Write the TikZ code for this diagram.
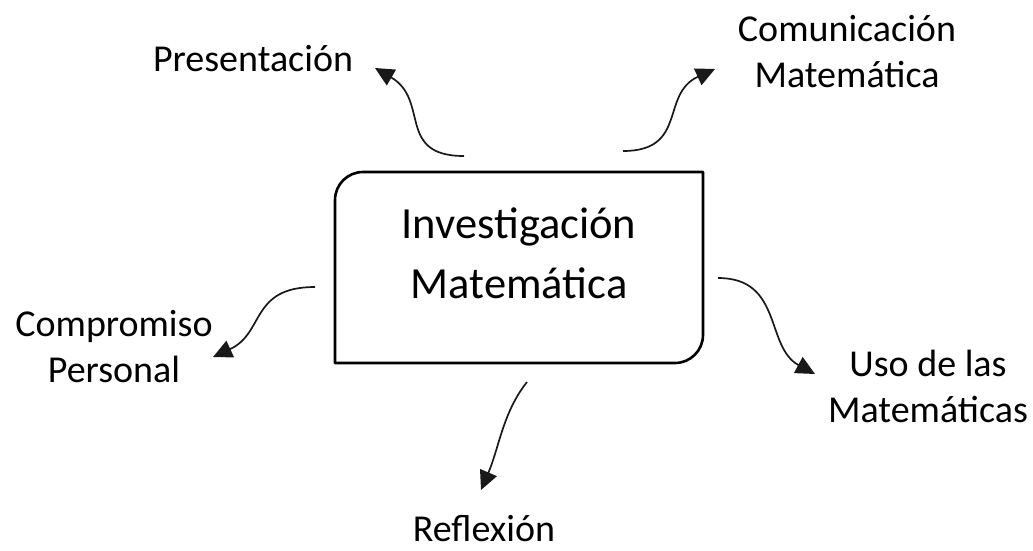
\documentclass[tikz,border=0pt]{standalone}
\usepackage{fontspec}
\setmainfont{Carlito}
\usetikzlibrary{arrows.meta}
\begin{document}
\begin{tikzpicture}[x=1pt,y=-1pt,
  lbl/.style={inner sep=0pt,align=center,anchor=base,font=\fontsize{38}{46}\selectfont},
  maintext/.style={inner sep=0pt,align=center,anchor=base,font=\fontsize{44.5}{60}\selectfont},
  boxline/.style={line width=2.6pt,line join=round},
  conn/.style={line width=1.7pt,draw=black!90,-{Triangle[length=19pt,width=18pt]}}]
\useasboundingbox (0,0) rectangle (1033,550);
% main box
\coordinate (bnw) at (335,172);
\coordinate (bse) at (703,363);
\draw[boxline] ([yshift=-28pt]bnw) arc[start angle=180,end angle=90,radius=28pt]
  -- (bse|-bnw) -- ([yshift=28pt]bse) arc[start angle=0,end angle=-90,radius=28pt]
  -- (bnw|-bse) -- cycle;
\node[maintext] (main) at (519,298) {Investigación\\Matemática};
% labels
\node[lbl] (pres) at (253,71) {Presentación};
\node[lbl] (com) at (847,87) {Comunicación\\Matemática};
\node[lbl] (compr) at (114,382) {Compromiso\\Personal};
\node[lbl] (uso) at (928,422) {Uso de las\\Matemáticas};
\node[lbl,text depth=0pt] (refl) at (484,541) {Reflexión};
% connector ends
\coordinate (s1) at (464,156); \coordinate (e1) at (375,68);
\coordinate (s2) at (623,151); \coordinate (e2) at (715,69);
\coordinate (s3) at (315,287); \coordinate (e3) at (213,357);
\coordinate (s4) at (718,278); \coordinate (e4) at (815,374);
\coordinate (s5) at (527,382); \coordinate (e5) at (481,490);
\draw[conn] (s1) .. controls +(-68,0) and +(55,32) .. (e1);
\draw[conn] (s2) .. controls +(65,0) and +(-55,25) .. (e2);
\draw[conn] (s3) .. controls +(-65,0) and +(52,-24) .. (e3);
\draw[conn] (s4) .. controls +(65,0) and +(-50,-27) .. (e4);
\draw[conn] (s5) .. controls +(-24,30) and +(18,-42) .. (e5);
\end{tikzpicture}
\end{document}
